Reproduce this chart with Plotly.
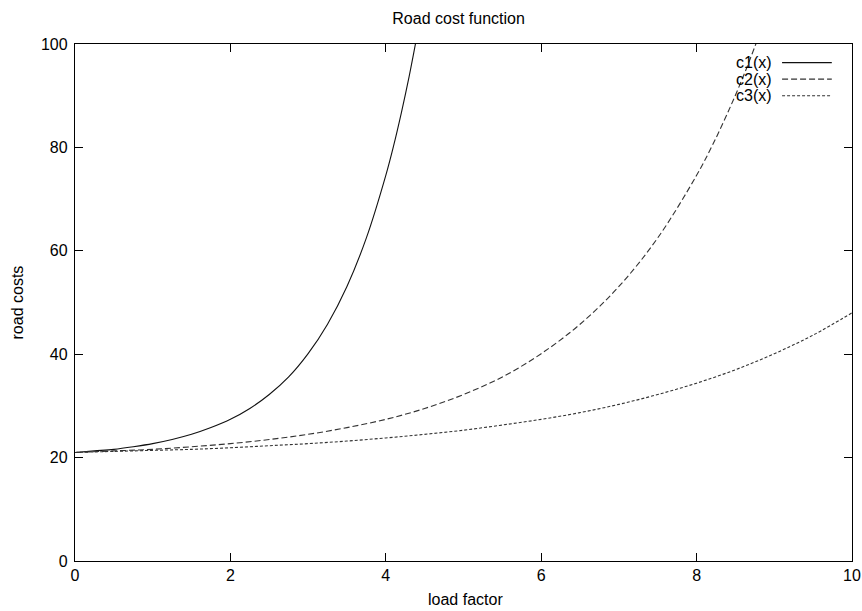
import plotly.graph_objects as go

# Values
c1_x = [0, 0.25, 0.5, 0.75, 1, 1.25, 1.5, 1.75, 2, 2.25, 2.5, 2.75, 3, 3.25, 3.5, 3.75, 4, 4.1, 4.2, 4.3, 4.4]
c1_y = [21.0, 21.3, 21.6, 22.1, 22.7, 23.5, 24.5, 25.8, 27.4, 29.5, 32.2, 35.6, 40.1, 45.8, 53.1, 62.5, 74.6, 80.3, 86.7, 93.7, 101.5]

c2_x = [0, 0.5, 1, 1.5, 2, 2.5, 3, 3.5, 4, 4.5, 5, 5.5, 6, 6.5, 7, 7.5, 8, 8.2, 8.4, 8.6, 8.8]
c2_y = [21.0, 21.3, 21.6, 22.1, 22.7, 23.5, 24.5, 25.8, 27.4, 29.5, 32.2, 35.6, 40.1, 45.8, 53.1, 62.5, 74.6, 80.3, 86.7, 93.7, 101.5]

c3_x = [0, 0.5, 1, 1.5, 2, 2.5, 3, 3.5, 4, 4.5, 5, 5.5, 6, 6.5, 7, 7.5, 8, 8.5, 9, 9.5, 10]
c3_y = [21.0, 21.2, 21.4, 21.6, 21.9, 22.3, 22.7, 23.2, 23.8, 24.5, 25.3, 26.3, 27.4, 28.7, 30.3, 32.2, 34.4, 37.0, 40.1, 43.7, 48.0]

series_names = ["c1(x)", "c2(x)", "c3(x)"]
x_ticks = [0, 2, 4, 6, 8, 10]
y_ticks = [0, 20, 40, 60, 80, 100]

FONT = "Liberation Sans, Arial, sans-serif"
FS = 16
dashes = ["solid", "6px,3px", "3px,2px"]
colors = ["#111111", "#333333", "#333333"]

fig = go.Figure()
for name, xs, ys, d, c in zip(series_names, [c1_x, c2_x, c3_x], [c1_y, c2_y, c3_y], dashes, colors):
    fig.add_trace(go.Scatter(
        x=xs, y=ys, mode="lines", name=name,
        line=dict(color=c, width=1.1, dash=d, shape="spline", smoothing=1.0),
        showlegend=False,
    ))

# gnuplot-style legend: text, then line sample
legend_y = [0.964, 0.932, 0.900]
for name, ly, d, c in zip(series_names, legend_y, dashes, colors):
    fig.add_annotation(x=0.899, y=ly, xref="paper", yref="paper", text=name,
                       showarrow=False, xanchor="right", yanchor="middle",
                       font=dict(family=FONT, size=FS, color="black"))
    fig.add_shape(type="line", xref="paper", yref="paper",
                  x0=0.91, x1=0.974, y0=ly, y1=ly,
                  line=dict(color=c, width=1.1, dash=d))

# axis titles
fig.add_annotation(x=0.502, y=-0.0754, xref="paper", yref="paper", text="load factor",
                   showarrow=False, xanchor="center", yanchor="middle",
                   font=dict(family=FONT, size=FS, color="black"))
fig.add_annotation(x=-0.0734, y=0.5, xref="paper", yref="paper", text="road costs",
                   showarrow=False, xanchor="center", yanchor="middle", textangle=-90,
                   font=dict(family=FONT, size=FS, color="black"))

axis_common = dict(
    showline=True, linecolor="black", linewidth=1.3, mirror="ticks",
    ticks="inside", ticklen=8, tickcolor="black", tickwidth=1.3,
    showgrid=False, zeroline=False, automargin=False,
    tickfont=dict(family=FONT, size=FS, color="black"),
)

fig.update_layout(
    width=862, height=611,
    margin=dict(l=75, r=10, t=44, b=50, autoexpand=False),
    paper_bgcolor="white", plot_bgcolor="white",
    title=dict(text="Road cost function", xref="container", yref="container",
               x=0.532, xanchor="center", y=1 - 18 / 611, yanchor="middle",
               automargin=False,
               font=dict(family=FONT, size=FS, color="black")),
    xaxis=dict(range=[0, 10], tickvals=x_ticks, **axis_common),
    yaxis=dict(range=[0, 100], tickvals=y_ticks, ticklabelstandoff=3, **axis_common),
)

fig.write_html(
    "out.html",
    config={"displayModeBar": False},
    post_script="document.body.style.margin='0';document.body.style.overflow='hidden';",
)
